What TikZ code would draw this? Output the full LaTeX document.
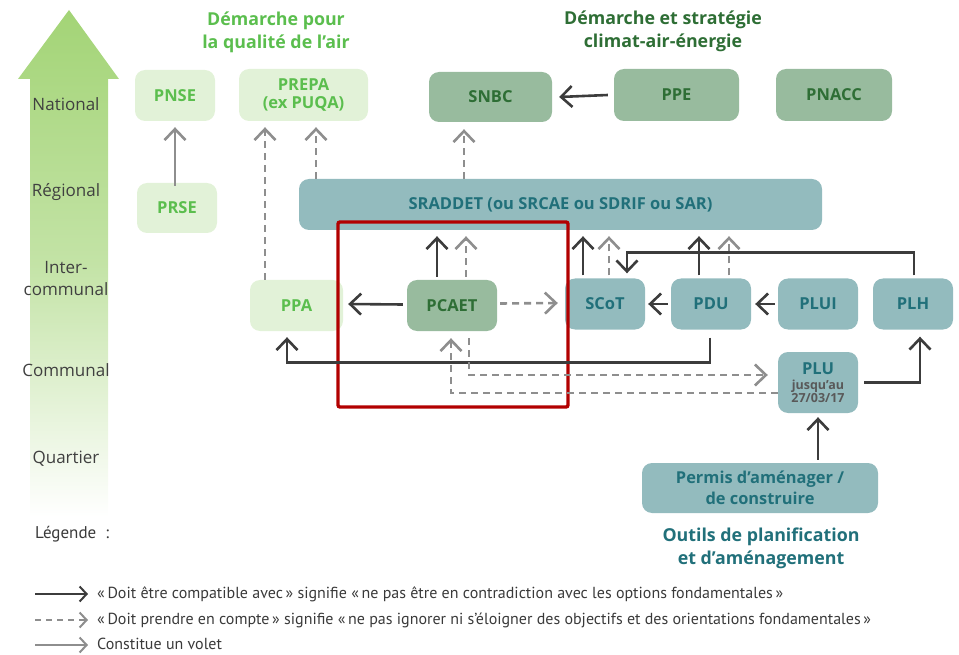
\documentclass[tikz,border=0pt]{standalone}
\usepackage{fontspec}
\setmainfont{Open Sans}
\newfontfamily\legfont{PT Sans}
\usetikzlibrary{arrows.meta}
\definecolor{lgfill}{HTML}{E2F2D8}
\definecolor{lgtext}{HTML}{5BBE4E}
\definecolor{mgfill}{HTML}{98BB9E}
\definecolor{mgtext}{HTML}{2E6E35}
\definecolor{tlfill}{HTML}{93BBBE}
\definecolor{tltext}{HTML}{21707A}
\definecolor{darkarr}{HTML}{3C3C3C}
\definecolor{grayarr}{HTML}{8E8E8E}
\definecolor{redbox}{HTML}{B20000}
\definecolor{arrgreen}{HTML}{A3D476}
\definecolor{lvltext}{HTML}{404040}
\definecolor{legtext}{HTML}{3A3A3A}
\begin{document}
\begin{tikzpicture}[x=1pt,y=-1pt,
  box/.style={rounded corners=10pt, inner sep=0pt, align=center,
    font=\bfseries\fontsize{16.5}{18.5}\selectfont},
  lbox/.style={box, fill=lgfill, text=lgtext},
  mbox/.style={box, fill=mgfill, text=mgtext},
  tbox/.style={box, fill=tlfill, text=tltext},
  sz/.style 2 args={minimum width=#1pt, minimum height=#2pt},
  solidarr/.style={draw=darkarr, line width=2.6pt, -{Straight Barb[length=11pt,width=21pt]}},
  dasharr/.style={draw=grayarr, line width=2.6pt, dash pattern=on 7pt off 5pt, -{Straight Barb[length=11pt,width=21pt]}},
  voletarr/.style={draw=grayarr, line width=2.6pt, -{Straight Barb[length=11pt,width=21pt]}},
  lvl/.style={text=lvltext, font=\fontsize{17}{22}\selectfont, align=center},
  ttl/.style={font=\bfseries\fontsize{17.8}{23}\selectfont, align=center},
  legtxt/.style={anchor=west, text=legtext, inner sep=0pt, font=\legfont\fontsize{16}{18}\selectfont},
]
\useasboundingbox (0,0) rectangle (959,655);

% big gradient arrow
\shade[top color=arrgreen, bottom color=white, middle color=arrgreen!65]
  (30,517) -- (30,79) -- (18,79) -- (69,10) -- (119,79) -- (108,79) -- (108,517) -- cycle;

% level labels
\node[lvl] (lnat) at (66,104) {National};
\node[lvl] (lreg) at (66,192) {Régional};
\node[lvl] (linter) at (66,279) {Inter-\\communal};
\node[lvl] (lcom) at (66,370) {Communal};
\node[lvl] (lqua) at (66,459) {Quartier};

% titles
\node[ttl, text=lgtext] (t1) at (276,32) {Démarche pour\\la qualité de l’air};
\node[ttl, text=mgtext] (t2) at (663,31) {Démarche et stratégie\\climat-air-énergie};
\node[ttl, text=tltext] (t3) at (761,548) {Outils de planification\\et d’aménagement};

% boxes
\node[lbox, sz={80}{51}] (pnse) at (175,95.5) {PNSE};
\node[lbox, sz={80}{50}] (prse) at (177,208) {PRSE};
\node[lbox, sz={129}{52}] (prepa) at (303.5,95) {PREPA\\(ex PUQA)};
\node[mbox, sz={123}{50}] (snbc) at (490.5,97) {SNBC};
\node[mbox, sz={125}{52}] (ppe) at (676.5,95) {PPE};
\node[mbox, sz={116}{52}] (pnacc) at (834,95) {PNACC};
\node[tbox, sz={523}{51}] (sraddet) at (560.5,204.5) {SRADDET (ou SRCAE ou SDRIF ou SAR)};
\node[lbox, sz={93}{51}] (ppa) at (296.5,305.5) {PPA};
\node[mbox, sz={90}{51}] (pcaet) at (452,305.5) {PCAET};
\node[tbox, sz={80}{51}] (scot) at (605,304) {SCoT};
\node[tbox, sz={80}{51}] (pdu) at (711,304) {PDU};
\node[tbox, sz={80}{51}] (plui) at (818,304) {PLUI};
\node[tbox, sz={80}{51}] (plh) at (913,304) {PLH};
\node[tbox, sz={80}{61}, font=\bfseries\fontsize{16.5}{16}\selectfont] (plu) at (818,382.5)
  {PLU\\[-1pt]{\color{darkarr!85}\fontsize{12.5}{14}\selectfont jusqu’au}\\[-3pt]{\color{darkarr!85}\fontsize{12.5}{14}\selectfont 27/03/17}};
\node[tbox, sz={236}{50}, font=\bfseries\fontsize{16.4}{21}\selectfont] (permis) at (760,488) {Permis d’aménager /\\de construire};

% focus rectangle
\draw[redbox, line width=3.4pt, rounded corners=2pt] (338,222) rectangle (568,407);

\coordinate (sradb) at ([yshift=-6pt]sraddet.south);

% connectors
\draw[voletarr] ([yshift=-3pt]prse.north -| pnse.south) -- ([yshift=-6pt]pnse.south);
\draw[dasharr] ([xshift=-31.5pt]ppa.north) -- ([xshift=-38.5pt,yshift=-6pt]prepa.south);
\draw[dasharr] ([xshift=12.5pt]prepa.south |- sraddet.north) -- ([xshift=12.5pt,yshift=-6pt]prepa.south);
\draw[dasharr] ([xshift=-26.5pt]snbc.south |- sraddet.north) -- ([xshift=-26.5pt,yshift=-7pt]snbc.south);
\draw[solidarr] ([xshift=-6pt]ppe.west) -- ([xshift=7pt]snbc.east);

\draw[solidarr] ([xshift=-15pt,yshift=3pt]pcaet.north) -- ([xshift=-15pt]pcaet.north |- sradb);
\draw[dasharr] ([xshift=14pt,yshift=3pt]pcaet.north) -- ([xshift=14pt]pcaet.north |- sradb);
\draw[solidarr] ([xshift=-4pt,yshift=1pt]pcaet.west) -- ([xshift=5pt,yshift=1.5pt]ppa.east);
\draw[dasharr] ([xshift=3pt,yshift=2pt]pcaet.east) -- ([xshift=-7pt,yshift=1pt]scot.west);

\draw[solidarr] ([xshift=-22pt,yshift=3pt]scot.north) -- ([xshift=-22pt]scot.north |- sradb);
\draw[dasharr] ([xshift=4pt,yshift=3pt]scot.north) -- ([xshift=4pt]scot.north |- sradb);
\draw[solidarr] ([xshift=-12pt,yshift=3pt]pdu.north) -- ([xshift=-12pt]pdu.north |- sradb);
\draw[dasharr] ([xshift=18pt,yshift=3pt]pdu.north) -- ([xshift=18pt]pdu.north |- sradb);

\draw[solidarr] ([xshift=-3pt]pdu.west) -- ([xshift=3pt]scot.east);
\draw[solidarr] ([xshift=-3pt]plui.west) -- ([xshift=4pt]pdu.east);
\draw[solidarr] ([xshift=1pt,yshift=3pt]plh.north) -- ([xshift=1pt,yshift=26pt]plh.north)
  -| ([xshift=22pt,yshift=5pt]scot.north);
\draw[solidarr] ([xshift=-1pt,yshift=-8pt]pdu.south) -- ([xshift=-1pt,yshift=-33pt]pdu.south)
  -| ([xshift=-9.5pt,yshift=-6pt]ppa.south);
\draw[dasharr] ([xshift=17pt,yshift=-7pt]pcaet.south) |- ([xshift=-10pt,yshift=7.5pt]plu.west);
\draw[dasharr] ([yshift=-10.5pt]plu.west) -| ([xshift=-1pt,yshift=-7pt]pcaet.south);
\draw[solidarr] ([xshift=6pt]plu.east) -| ([xshift=7pt,yshift=-7pt]plh.south);
\draw[solidarr] ([yshift=3pt]permis.north -| plu.south) -- ([yshift=-4pt]plu.south);

% legend
\node[legtxt, font=\legfont\fontsize{17}{19}\selectfont] (leg) at (35,534) {Légende\ \ :};
\coordinate (la1) at (35,594); \coordinate (lb1) at (88,594);
\coordinate (la2) at (35,620); \coordinate (lb2) at (88,620);
\coordinate (la3) at (35,645); \coordinate (lb3) at (88,645);
\draw[draw=darkarr, line width=2pt, -{Straight Barb[length=7pt,width=15pt]}] (la1) -- (lb1);
\draw[draw=grayarr, line width=2pt, dash pattern=on 6pt off 5pt, -{Straight Barb[length=7pt,width=15pt]}] (la2) -- (lb2);
\draw[draw=grayarr, line width=2pt, -{Straight Barb[length=7pt,width=15pt]}] (la3) -- (lb3);
\node[legtxt] (l1) at (97,594) {«\,Doit être compatible avec\,» signifie «\,ne pas être en contradiction avec les options fondamentales\,»};
\node[legtxt] (l2) at (97,620) {«\,Doit prendre en compte\,» signifie «\,ne pas ignorer ni s’éloigner des objectifs et des orientations fondamentales\,»};
\node[legtxt] (l3) at (97,644) {Constitue un volet};
\end{tikzpicture}
\end{document}
